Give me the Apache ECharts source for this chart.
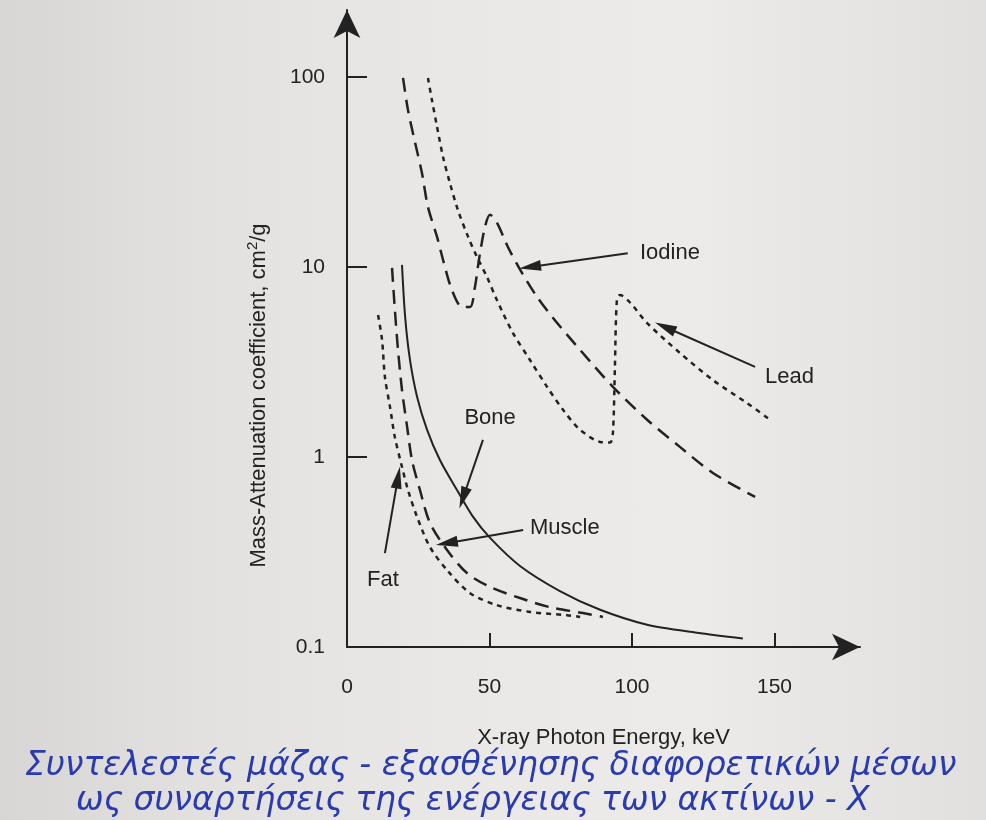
<!DOCTYPE html>
<html>
<head>
<meta charset="utf-8">
<script src="https://cdn.jsdelivr.net/npm/echarts@6/dist/echarts.min.js"></script>
<style>
html,body{margin:0;padding:0;}
body{width:986px;height:820px;background:linear-gradient(90deg,#d8d6d4 0%,#e3e1df 20%,#eae8e6 45%,#ecebe9 70%,#e2e0de 100%);}
#chart{width:986px;height:820px;}
</style>
</head>
<body>
<div id="chart"></div>
<script>
// ---- data (energy in keV, mass-attenuation coefficient in cm^2/g) ----
const xTickLabels = [0, 50, 100, 150];
const yTickLabels = [0.1, 1, 10, 100];

const leadKeV = [28.4, 29.8, 31.6, 33.7, 36.1, 38.9, 42.5, 45.6, 49.1, 52.6, 58.2, 64.2, 70.2, 75.8, 81.8, 88.8, 92.3, 93.3, 94.0, 94.7, 95.8, 99.3, 105.3, 116.8, 128.4, 140.4, 147.7];
const leadMu  = [98.8, 75.7, 54.6, 37.9, 27.7, 19.95, 14.4, 11.3, 8.86, 6.70, 4.50, 3.24, 2.34, 1.77, 1.39, 1.20, 1.19, 1.34, 2.98, 6.70, 7.12, 6.50, 5.07, 3.53, 2.54, 1.92, 1.60];

const iodineKeV = [19.65, 21.4, 23.9, 26.3, 28.4, 31.6, 33.7, 36.8, 40.4, 43.2, 44.9, 46.3, 48.4, 50.2, 52.6, 56.5, 61.4, 66.7, 72.3, 81.8, 93.3, 105.3, 116.8, 128.4, 143.2];
const iodineMu  = [98.8, 67.0, 45.0, 31.2, 20.7, 14.4, 10.9, 7.57, 6.16, 6.16, 7.85, 10.9, 16.2, 18.8, 17.1, 12.7, 9.30, 6.95, 5.39, 3.66, 2.34, 1.57, 1.13, 0.824, 0.616];

const boneKeV = [19.3, 20.4, 22.1, 24.6, 28.1, 32.6, 38.6, 44.0, 50.2, 60.7, 74.7, 88.8, 105.3, 122.8, 138.9];
const boneMu  = [10.25, 5.46, 3.24, 2.07, 1.39, 0.964, 0.67, 0.49, 0.375, 0.267, 0.197, 0.157, 0.131, 0.119, 0.111];

const muscleKeV = [15.8, 16.8, 17.9, 19.3, 21.1, 22.8, 25.6, 29.1, 35.1, 42.1, 50.2, 60.7, 71.2, 82.8, 89.8];
const muscleMu  = [9.88, 5.94, 3.66, 2.25, 1.44, 0.964, 0.67, 0.45, 0.324, 0.245, 0.207, 0.181, 0.162, 0.151, 0.144];

const fatKeV = [10.9, 12.3, 13.3, 15.1, 16.8, 19.3, 21.4, 24.6, 29.1, 35.1, 43.2, 52.6, 64.2, 77.2, 81.8];
const fatMu  = [5.59, 4.13, 2.64, 1.83, 1.27, 0.886, 0.67, 0.483, 0.336, 0.254, 0.192, 0.166, 0.153, 0.147, 0.144];

// annotation labels
const labelNames = ['Iodine', 'Lead', 'Bone', 'Muscle', 'Fat'];
const labelKeV   = [102.8, 146.7, 50.2, 64.2, 12.6];
const labelMu    = [11.8, 2.64, 1.60, 0.423, 0.225];
// arrows: from (tail) -> to (tip)
const arrowFromKeV = [98.5, 143.2, 47.7, 61.8, 13.3];
const arrowFromMu  = [11.8, 2.98, 1.23, 0.413, 0.312];
const arrowToKeV   = [64.2, 111.6, 40.7, 35.0, 17.9];
const arrowToMu    = [10.0, 4.83, 0.608, 0.352, 0.78];

const captionLines = [
  'Συντελεστές μάζας - εξασθένησης διαφορετικών μέσων',
  'ως συναρτήσεις της ενέργειας των ακτίνων - X'
];

function zip(a, b) { return a.map((v, i) => [v, b[i]]); }

const ink = '#222';
const chart = echarts.init(document.getElementById('chart'), null, {renderer: 'canvas'});

const arrowData = arrowFromKeV.map((v, i) => [
  {coord: [arrowFromKeV[i], arrowFromMu[i]]},
  {coord: [arrowToKeV[i], arrowToMu[i]], symbol: 'triangle', symbolSize: [11, 22]}
]);
const labelData = labelNames.map((n, i) => ({
  name: n,
  value: [labelKeV[i], labelMu[i]],
  label: {position: (n === 'Bone' || n === 'Fat') ? 'inside' : 'right', distance: 0}
}));

function lineSeries(name, xs, ys, type, width) {
  return {
    name: name,
    type: 'line',
    data: zip(xs, ys),
    showSymbol: false,
    smooth: 0.3,
    lineStyle: {color: ink, width: width, type: type, cap: 'butt'},
    z: 3,
    animation: false
  };
}

const option = {
  backgroundColor: 'transparent',
  animation: false,
  grid: {left: 347, right: 126, top: 10, bottom: 173},
  xAxis: {
    type: 'value',
    min: 0, max: 180,
    name: 'X-ray Photon Energy, keV',
    nameLocation: 'middle',
    nameGap: 80,
    nameTextStyle: {fontFamily: 'Liberation Sans', fontSize: 22, color: ink},
    axisLine: {show: true, symbol: ['none', 'arrow'], symbolSize: [20, 28], lineStyle: {color: ink, width: 2}},
    axisTick: {show: true, inside: true, length: 14, customValues: [50, 100, 150], lineStyle: {color: ink, width: 2}},
    axisLabel: {customValues: xTickLabels, margin: 30, fontFamily: 'Liberation Sans', fontSize: 21, color: ink},
    splitLine: {show: false}
  },
  yAxis: {
    type: 'log',
    logBase: 10,
    min: 0.1, max: 225,
    name: 'Mass-Attenuation coefficient, cm{sup|2}/g',
    nameLocation: 'middle',
    nameGap: 74,
    nameTextStyle: {
      fontFamily: 'Liberation Sans', fontSize: 22, color: ink, lineHeight: 28,
      padding: [0, 134, 0, 0],
      rich: {sup: {fontFamily: 'Liberation Sans', fontSize: 15, color: ink, verticalAlign: 'top', lineHeight: 28}}
    },
    axisLine: {show: true, symbol: ['none', 'arrow'], symbolSize: [20, 28], lineStyle: {color: ink, width: 2}},
    axisTick: {show: true, inside: true, length: 20, customValues: [1, 10, 100], lineStyle: {color: ink, width: 2}},
    axisLabel: {customValues: yTickLabels, margin: 22, fontFamily: 'Liberation Sans', fontSize: 21, color: ink,
      formatter: v => String(v)},
    splitLine: {show: false}
  },
  series: [
    lineSeries('Lead', leadKeV, leadMu, [5, 5], 2.5),
    lineSeries('Iodine', iodineKeV, iodineMu, [14, 8], 2.5),
    lineSeries('Bone', boneKeV, boneMu, 'solid', 2),
    lineSeries('Muscle', muscleKeV, muscleMu, [14, 8], 2.5),
    lineSeries('Fat', fatKeV, fatMu, [5, 5], 2.5),
    {
      name: 'arrows',
      type: 'line',
      data: [],
      markLine: {
        silent: true,
        symbol: ['none', 'triangle'],
        symbolSize: 16,
        label: {show: false},
        lineStyle: {color: ink, width: 2, type: 'solid', opacity: 1},
        itemStyle: {color: ink},
        emphasis: {disabled: true},
        data: arrowData,
        animation: false
      }
    },
    {
      name: 'labels',
      type: 'scatter',
      data: labelData,
      symbolSize: 0,
      silent: true,
      itemStyle: {opacity: 1, color: ink},
      label: {show: true, formatter: p => p.name, fontFamily: 'Liberation Sans', fontSize: 22, color: ink, opacity: 1}
    }
  ],
  graphic: [
    {
      type: 'text', left: 25, top: 750,
      style: {text: captionLines[0], font: 'italic 33px "DejaVu Sans"', fill: '#2a3bb0'}
    },
    {
      type: 'text', left: 76, top: 785,
      style: {text: captionLines[1], font: 'italic 33px "DejaVu Sans"', fill: '#2a3bb0'}
    }
  ]
};
chart.setOption(option);
</script>
</body>
</html>
